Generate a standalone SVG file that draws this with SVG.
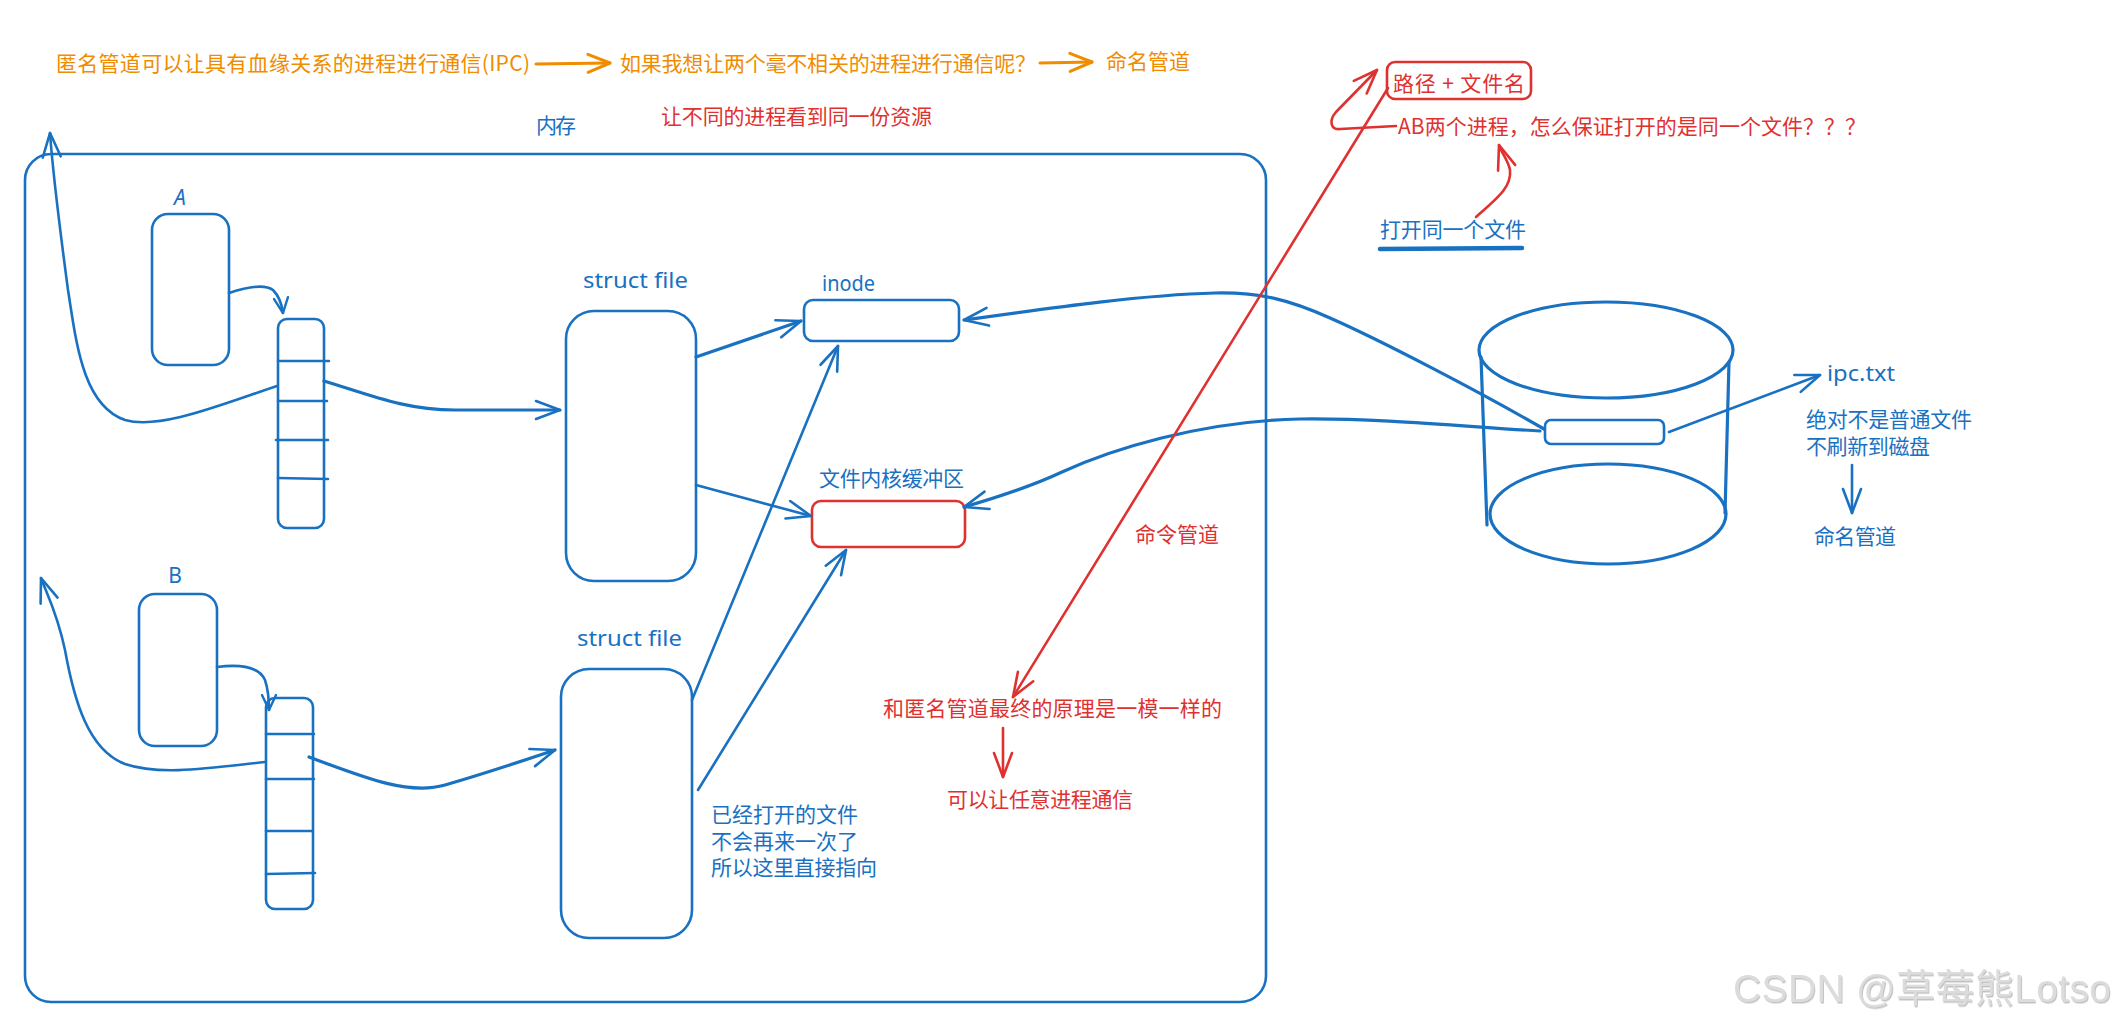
<svg xmlns="http://www.w3.org/2000/svg" width="2118" height="1023" viewBox="0 0 2118 1023">
<style>
.b{fill:none;stroke:#1971c2;stroke-width:2.6;stroke-linecap:round;stroke-linejoin:round}
.bt{fill:none;stroke:#1971c2;stroke-width:3.2;stroke-linecap:round;stroke-linejoin:round}
.r{fill:none;stroke:#e03131;stroke-width:2.6;stroke-linecap:round;stroke-linejoin:round}
.o{fill:none;stroke:#f08c00;stroke-width:3;stroke-linecap:round;stroke-linejoin:round}
text{font-family:"Noto Sans CJK SC","Noto Sans",sans-serif;font-size:21px;dominant-baseline:central}
.tb{fill:#1971c2}
.tr{fill:#e03131}
.to{fill:#f08c00}
.lat{font-family:"Noto Sans","Noto Sans CJK SC",sans-serif}
.wm{font-family:"Liberation Sans","Noto Sans CJK SC",sans-serif;font-size:39px;fill:#dcdcdc}
</style>
<defs>
<marker id="ab" viewBox="-30 -15 34 30" refX="0" refY="0" markerWidth="34" markerHeight="30" markerUnits="userSpaceOnUse" orient="auto" overflow="visible"><path d="M-24,-9 L0,0 L-24,9" fill="none" stroke="#1971c2" stroke-width="2.6" stroke-linecap="round" stroke-linejoin="round"/></marker>
<marker id="abs" viewBox="-20 -10 24 20" refX="0" refY="0" markerWidth="24" markerHeight="20" markerUnits="userSpaceOnUse" orient="auto" overflow="visible"><path d="M-15,-7 L0,0 L-15,7" fill="none" stroke="#1971c2" stroke-width="2.4" stroke-linecap="round" stroke-linejoin="round"/></marker>
<marker id="ar" viewBox="-30 -15 34 30" refX="0" refY="0" markerWidth="34" markerHeight="30" markerUnits="userSpaceOnUse" orient="auto" overflow="visible"><path d="M-24,-9 L0,0 L-24,9" fill="none" stroke="#e03131" stroke-width="2.6" stroke-linecap="round" stroke-linejoin="round"/></marker>
<marker id="ao" viewBox="-30 -15 34 30" refX="0" refY="0" markerWidth="34" markerHeight="30" markerUnits="userSpaceOnUse" orient="auto" overflow="visible"><path d="M-22,-9 L0,0 L-22,9" fill="none" stroke="#f08c00" stroke-width="3" stroke-linecap="round" stroke-linejoin="round"/></marker>
<filter id="emb" x="-5%" y="-20%" width="110%" height="140%"><feDropShadow dx="1" dy="1.5" stdDeviation="0.6" flood-color="#9a9a9a" flood-opacity="0.6"/></filter>
</defs>
<rect width="2118" height="1023" fill="#ffffff"/>

<g id="top-notes">
<text class="to" x="56" y="62" textLength="474" lengthAdjust="spacing">匿名管道可以让具有血缘关系的进程进行通信(IPC)</text>
<text class="to" x="620" y="62" textLength="416" lengthAdjust="spacing">如果我想让两个毫不相关的进程进行通信呢？</text>
<text class="to" x="1106" y="60" textLength="84" lengthAdjust="spacing">命名管道</text>
<text class="tb" x="536" y="124" textLength="40" lengthAdjust="spacing">内存</text>
<text class="tr" x="661" y="115" textLength="271" lengthAdjust="spacing">让不同的进程看到同一份资源</text>
</g>

<g id="memory">
<rect class="b" x="25" y="154" width="1241" height="848" rx="26"/>
</g>

<g id="processA">
<text class="tb lat" x="180" y="197" text-anchor="middle" font-size="19" font-style="italic">A</text>
<rect class="b" x="152" y="214" width="77" height="151" rx="16"/>
</g>
<g id="fdtableA">
<rect class="b" x="278" y="319" width="46" height="209" rx="9"/>
<path class="b" d="M278,361 L329,361 M278,401 L327,401 M276,440 L328,440 M278,478 L328,479"/>
</g>
<g id="structfileA">
<text class="tb lat" x="583" y="280" font-size="21" textLength="105" lengthAdjust="spacingAndGlyphs">struct file</text>
<rect class="b" x="566" y="311" width="130" height="270" rx="28"/>
</g>
<g id="inode">
<text class="tb lat" x="822" y="283" font-size="20" textLength="53" lengthAdjust="spacingAndGlyphs">inode</text>
<rect class="b" x="804" y="300" width="155" height="41" rx="9"/>
</g>
<g id="buffer">
<text class="tb" x="819" y="477" font-size="20" textLength="145" lengthAdjust="spacing">文件内核缓冲区</text>
<rect class="r" x="812" y="501" width="153" height="46" rx="9"/>
</g>
<g id="processB">
<text class="tb lat" x="175" y="575" text-anchor="middle" font-size="19">B</text>
<rect class="b" x="139" y="594" width="78" height="152" rx="16"/>
</g>
<g id="fdtableB">
<rect class="b" x="266" y="698" width="47" height="211" rx="9"/>
<path class="b" d="M266,734 L314,734 M266,779 L314,779 M266,831 L312,831 M266,874 L315,873"/>
</g>
<g id="structfileB">
<text class="tb lat" x="577" y="638" font-size="21" textLength="105" lengthAdjust="spacingAndGlyphs">struct file</text>
<rect class="b" x="561" y="669" width="131" height="269" rx="28"/>
</g>
<g id="note-opened">
<text class="tb" x="711" y="813">已经打开的文件</text>
<text class="tb" x="711" y="840">不会再来一次了</text>
<text class="tb" x="711" y="866" textLength="166" lengthAdjust="spacing">所以这里直接指向</text>
</g>

<g id="disk">
<ellipse class="bt" cx="1606" cy="350" rx="127" ry="48"/>
<path class="bt" d="M1481,357 L1487,525 M1729,362 L1725,513"/>
<ellipse class="bt" cx="1608" cy="514" rx="118" ry="50"/>
<rect class="b" x="1545" y="420" width="119" height="24" rx="6"/>
</g>
<g id="ipc-note">
<text class="tb lat" x="1827" y="373" font-size="20" textLength="68" lengthAdjust="spacingAndGlyphs">ipc.txt</text>
<text class="tb" x="1806" y="418" textLength="166" lengthAdjust="spacing">绝对不是普通文件</text>
<text class="tb" x="1806" y="445" textLength="124" lengthAdjust="spacing">不刷新到磁盘</text>
<text class="tb" x="1814" y="535" textLength="82" lengthAdjust="spacing">命名管道</text>
</g>

<g id="path-note">
<rect class="r" x="1387" y="62" width="144" height="37" rx="8"/>
<text class="tr" x="1393" y="82" font-size="20" textLength="132" lengthAdjust="spacing">路径 + 文件名</text>
<text class="tr" x="1398" y="125" textLength="468" lengthAdjust="spacing">AB两个进程，怎么保证打开的是同一个文件？？？</text>
<text class="tb" x="1380" y="228" textLength="146" lengthAdjust="spacing">打开同一个文件</text>
<path d="M1380,249 L1522,248" fill="none" stroke="#1971c2" stroke-width="4.5" stroke-linecap="round"/>
</g>

<g id="pipe-notes">
<text class="tr" x="1135" y="533" textLength="84" lengthAdjust="spacing">命令管道</text>
<text class="tr" x="883" y="707" textLength="339" lengthAdjust="spacing">和匿名管道最终的原理是一模一样的</text>
<text class="tr" x="947" y="798" textLength="186" lengthAdjust="spacing">可以让任意进程通信</text>
</g>

<g id="connectors">
<path class="o" d="M536,64 L610,63" marker-end="url(#ao)"/>
<path class="o" d="M1040,63 L1092,62" marker-end="url(#ao)"/>

<path class="b" d="M229,293 Q262,282 273,290 Q281,298 283,313" marker-end="url(#abs)"/>
<path class="b" d="M277,386 C220,405 160,430 125,420 C82,405 76,340 68,290 C60,230 53,175 50,133" marker-end="url(#ab)"/>
<path class="bt" d="M324,381 C370,395 405,410 455,410 L560,410" marker-end="url(#ab)"/>
<path class="bt" d="M696,357 L801,321" marker-end="url(#ab)"/>
<path class="b" d="M696,485 L811,516" marker-end="url(#ab)"/>

<path class="b" d="M217,667 Q257,662 265,680 Q269,692 269,710" marker-end="url(#abs)"/>
<path class="b" d="M265,762 C210,768 160,776 125,764 C88,750 74,700 65,650 C57,612 46,592 41,578" marker-end="url(#ab)"/>
<path class="bt" d="M309,757 C370,780 410,795 445,785 C490,772 525,760 555,750" marker-end="url(#ab)"/>
<path class="b" d="M692,700 L838,346" marker-end="url(#ab)"/>
<path class="b" d="M698,790 L846,550" marker-end="url(#ab)"/>

<path class="bt" d="M1544,429 C1480,392 1380,340 1330,318 C1290,300 1260,292 1215,293 C1140,295 1050,308 964,320" marker-end="url(#ab)"/>
<path class="bt" d="M1540,431 C1470,427 1380,418 1300,419 C1200,421 1110,450 1062,472 C1030,487 995,498 964,507" marker-end="url(#ab)"/>
<path class="b" d="M1669,432 L1820,375" marker-end="url(#ab)"/>
<path class="b" d="M1852,465 L1852,513" marker-end="url(#ab)"/>

<path class="r" d="M1388,88 L1013,697" marker-end="url(#ar)"/>
<path class="r" d="M1396,126 L1340,129 C1330,130 1329,120 1336,112 L1377,70" marker-end="url(#ar)"/>
<path class="r" d="M1476,217 C1495,200 1512,188 1510,170 C1508,160 1502,154 1499,145" marker-end="url(#ar)"/>
<path class="r" d="M1003,728 L1003,777" marker-end="url(#ar)"/>
</g>

<g id="watermark">
<text class="wm" x="1733" y="988" textLength="378" lengthAdjust="spacing" filter="url(#emb)">CSDN @草莓熊Lotso</text>
</g>
</svg>
